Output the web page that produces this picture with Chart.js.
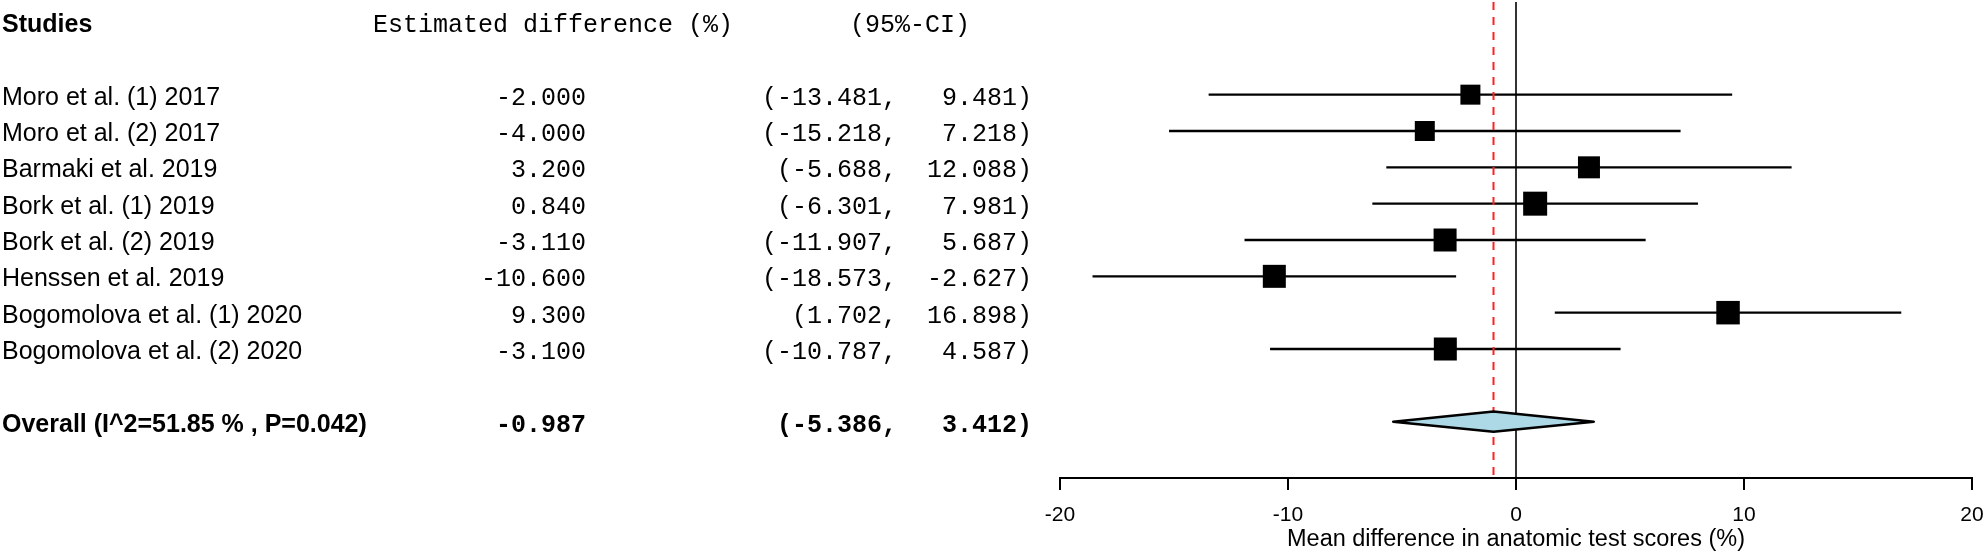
<!DOCTYPE html>
<html>
<head>
<meta charset="utf-8">
<script src="https://cdn.jsdelivr.net/npm/chart.js@4.4.0/dist/chart.umd.min.js"></script>
<style>
  html, body { margin: 0; padding: 0; background: #fff; overflow: hidden; }
  #wrap { width: 1984px; height: 555px; position: relative; }
</style>
</head>
<body>
<div id="wrap"><canvas id="c"></canvas></div>
<script>
// ---------------- DATA ----------------
const columnHeaders = ['Studies', 'Estimated difference (%)', '(95%-CI)'];
const studies = [
  'Moro et al. (1) 2017',
  'Moro et al. (2) 2017',
  'Barmaki et al. 2019',
  'Bork et al. (1) 2019',
  'Bork et al. (2) 2019',
  'Henssen et al. 2019',
  'Bogomolova et al. (1) 2020',
  'Bogomolova et al. (2) 2020'
];
const estimates = [-2.000, -4.000, 3.200, 0.840, -3.110, -10.600, 9.300, -3.100];
const ciLower   = [-13.481, -15.218, -5.688, -6.301, -11.907, -18.573, 1.702, -10.787];
const ciUpper   = [9.481, 7.218, 12.088, 7.981, 5.687, -2.627, 16.898, 4.587];
const overallLabel = 'Overall (I^2=51.85 % , P=0.042)';
const overallEstimate = -0.987;
const overallLower = -5.386;
const overallUpper = 3.412;
const xTicks = [-20, -10, 0, 10, 20];
const xTitle = 'Mean difference in anatomic test scores (%)';

// ---------------- STYLE ----------------
const boxSides = [20, 20, 22, 24, 23, 23, 23.5, 23];   // marker side (px), reflects study weight
const Y_MIN = -1.55, Y_MAX = 11.55;
const HEADER_ROW = -1, OVERALL_ROW = studies.length + 2;
const DIAMOND_HALF = 0.28;
const COL_STUDY_X = 2, COL_EST_RIGHT = 586, COL_CI_RIGHT = 1032;
const HDR_EST_X = 373, HDR_CI_X = 850;
const SANS = '"Liberation Sans", Arial, sans-serif';
const MONO = '"Liberation Mono", "Courier New", monospace';

const rowOf = i => i + 1;
const fmtCI = (lo, hi) => '(' + lo.toFixed(3) + ',' + hi.toFixed(3).padStart(8) + ')';

const datasets = [];
// study squares
datasets.push({
  data: estimates.map((v, i) => ({x: v, y: rowOf(i)})),
  showLine: false,
  pointStyle: 'rect',
  pointRadius: boxSides.map(s => s / Math.SQRT2),
  backgroundColor: '#000',
  borderWidth: 0,
  order: 0
});
// summary diamond
datasets.push({
  data: [
    {x: overallLower, y: OVERALL_ROW},
    {x: overallEstimate, y: OVERALL_ROW - DIAMOND_HALF},
    {x: overallUpper, y: OVERALL_ROW},
    {x: overallEstimate, y: OVERALL_ROW + DIAMOND_HALF},
    {x: overallLower, y: OVERALL_ROW}
  ],
  showLine: true, fill: 'shape', tension: 0,
  backgroundColor: '#ADD8E6', borderColor: '#000', borderWidth: 2.5,
  borderJoinStyle: 'round', borderCapStyle: 'round',
  pointRadius: 0, order: 1
});
// pooled estimate dashed line
datasets.push({
  data: [{x: overallEstimate, y: Y_MIN}, {x: overallEstimate, y: Y_MAX}],
  showLine: true, borderColor: '#FF2020', borderWidth: 2, borderDash: [8, 7],
  pointRadius: 0, order: 2
});
// zero line
datasets.push({
  data: [{x: 0, y: Y_MIN}, {x: 0, y: Y_MAX}],
  showLine: true, borderColor: '#000', borderWidth: 1.6,
  pointRadius: 0, order: 3
});
// confidence interval lines
studies.forEach((s, i) => {
  datasets.push({
    data: [{x: ciLower[i], y: rowOf(i)}, {x: ciUpper[i], y: rowOf(i)}],
    showLine: true, borderColor: '#000', borderWidth: 2.4,
    pointRadius: 0, order: 4
  });
});

const textColumns = {
  id: 'textColumns',
  afterDraw(chart) {
    const ctx = chart.ctx;
    const y = chart.scales.y;
    const base = r => y.getPixelForValue(r) + 10;
    ctx.save();
    ctx.fillStyle = '#000';
    ctx.textBaseline = 'alphabetic';
    // headers
    ctx.textAlign = 'left';
    ctx.font = 'bold 25px ' + SANS;
    ctx.fillText(columnHeaders[0], COL_STUDY_X, base(HEADER_ROW));
    ctx.font = '25px ' + MONO;
    ctx.fillText(columnHeaders[1], HDR_EST_X, base(HEADER_ROW));
    ctx.fillText(columnHeaders[2], HDR_CI_X, base(HEADER_ROW));
    // study rows
    studies.forEach((s, i) => {
      const b = base(rowOf(i));
      ctx.textAlign = 'left';
      ctx.font = '25px ' + SANS;
      ctx.fillText(s, COL_STUDY_X, b);
      ctx.textAlign = 'right';
      ctx.font = '25px ' + MONO;
      ctx.fillText(estimates[i].toFixed(3), COL_EST_RIGHT, b);
      ctx.fillText(fmtCI(ciLower[i], ciUpper[i]), COL_CI_RIGHT, b);
    });
    // overall row
    const bo = base(OVERALL_ROW);
    ctx.textAlign = 'left';
    ctx.font = 'bold 25px ' + SANS;
    ctx.fillText(overallLabel, COL_STUDY_X, bo);
    ctx.textAlign = 'right';
    ctx.font = 'bold 25px ' + MONO;
    ctx.fillText(overallEstimate.toFixed(3), COL_EST_RIGHT, bo);
    ctx.fillText(fmtCI(overallLower, overallUpper), COL_CI_RIGHT, bo);
    ctx.restore();
  }
};

Chart.defaults.font.family = SANS;
Chart.defaults.color = '#000';

const fixAxisBox = sc => {
  sc.height = 77;
  sc.paddingLeft = 0; sc.paddingRight = 0;
};

new Chart(document.getElementById('c'), {
  type: 'scatter',
  data: { datasets },
  options: {
    responsive: true,
    maintainAspectRatio: false,
    animation: false,
    events: [],
    layout: { autoPadding: false, padding: { left: 1060, right: 12, top: 2, bottom: 0 } },
    plugins: { legend: { display: false }, tooltip: { enabled: false } },
    scales: {
      x: {
        type: 'linear', min: xTicks[0], max: xTicks[xTicks.length - 1],
        afterBuildTicks: sc => { sc.ticks = xTicks.map(v => ({value: v})); },
        afterFit: fixAxisBox,
        ticks: { font: { size: 21 }, color: '#000', padding: 13, maxRotation: 0,
                 callback: v => String(v) },
        grid: { drawOnChartArea: false, drawTicks: true, tickLength: 12, color: '#000', lineWidth: 2 },
        border: { display: true, color: '#000', width: 2 },
        title: { display: true, text: xTitle, font: { size: 23.5 }, color: '#000',
                 padding: { top: 0, bottom: 1 } }
      },
      y: {
        type: 'linear', display: false, reverse: true, min: Y_MIN, max: Y_MAX
      }
    }
  },
  plugins: [textColumns]
});
</script>
</body>
</html>
